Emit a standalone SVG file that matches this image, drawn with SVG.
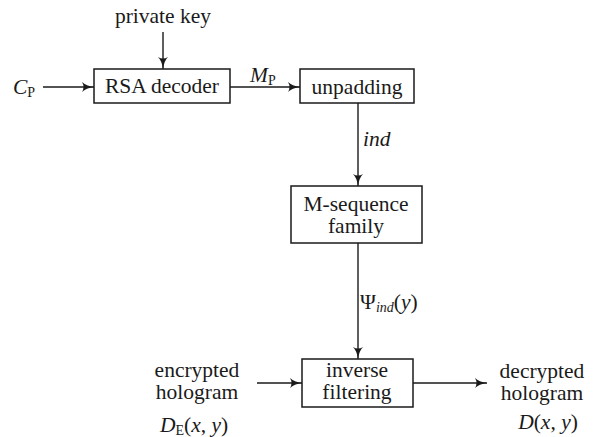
<svg xmlns="http://www.w3.org/2000/svg" width="596" height="437" viewBox="0 0 596 437">
<style>
text{font-family:"Times New Roman","Liberation Serif",Tinos,"DejaVu Serif",serif;font-size:21.5px;fill:#1a1a1a}
.c{text-anchor:middle}
.i{font-style:italic}
.s{font-size:14px}
.box{fill:#fff;stroke:#1a1a1a;stroke-width:1.5}
.ln{stroke:#1a1a1a;stroke-width:1.4;fill:none;marker-end:url(#ah)}
</style>
<defs>
<marker id="ah" viewBox="0 0 12 10" refX="12" refY="5" markerWidth="12" markerHeight="10" markerUnits="userSpaceOnUse" orient="auto">
<path d="M0,0 Q4,4 12,5 Q4,6 0,10 Q3,5 0,0Z" fill="#1a1a1a"/>
</marker>
</defs>
<g id="connectors">
<line class="ln" x1="163" y1="32" x2="163" y2="69"/>
<line class="ln" x1="43" y1="87" x2="94" y2="87"/>
<line class="ln" x1="230" y1="87" x2="300" y2="87"/>
<line class="ln" x1="358" y1="103" x2="358" y2="186"/>
<line class="ln" x1="358" y1="243" x2="358" y2="359"/>
<line class="ln" x1="257" y1="383" x2="302" y2="383"/>
<line class="ln" x1="413" y1="383" x2="487" y2="383"/>
<text x="250" y="82"><tspan class="i">M</tspan><tspan class="s" dy="3">P</tspan></text>
<text x="363" y="146" class="i">ind</text>
<text x="360" y="309">Ψ<tspan class="s i" dy="3">ind</tspan><tspan dy="-3">(</tspan><tspan class="i">y</tspan>)</text>
</g>
<g id="private-key"><text x="163" y="23" class="c">private key</text></g>
<g id="cp"><text x="13" y="94"><tspan class="i">C</tspan><tspan class="s" dy="3">P</tspan></text></g>
<g id="rsa-decoder">
<rect class="box" x="94" y="69" width="136" height="34"/>
<text x="162" y="93" class="c">RSA decoder</text>
</g>
<g id="unpadding">
<rect class="box" x="300" y="69" width="114" height="34"/>
<text x="357" y="94" class="c">unpadding</text>
</g>
<g id="m-sequence">
<rect class="box" x="291" y="186" width="131" height="57"/>
<text x="356" y="211" class="c">M-sequence</text>
<text x="356" y="233" class="c">family</text>
</g>
<g id="inverse-filtering">
<rect class="box" x="302" y="359" width="111" height="48"/>
<text x="357" y="377" class="c">inverse</text>
<text x="357" y="399" class="c">filtering</text>
</g>
<g id="encrypted">
<text x="197" y="377" class="c">encrypted</text>
<text x="197" y="399" class="c">hologram</text>
<text x="160" y="432"><tspan class="i">D</tspan><tspan class="s" dy="3">E</tspan><tspan dy="-3">(</tspan><tspan class="i">x</tspan>, <tspan class="i">y</tspan>)</text>
</g>
<g id="decrypted">
<text x="542" y="378" class="c">decrypted</text>
<text x="542" y="400" class="c">hologram</text>
<text x="548" y="429" class="c"><tspan class="i">D</tspan>(<tspan class="i">x</tspan>, <tspan class="i">y</tspan>)</text>
</g>
</svg>
